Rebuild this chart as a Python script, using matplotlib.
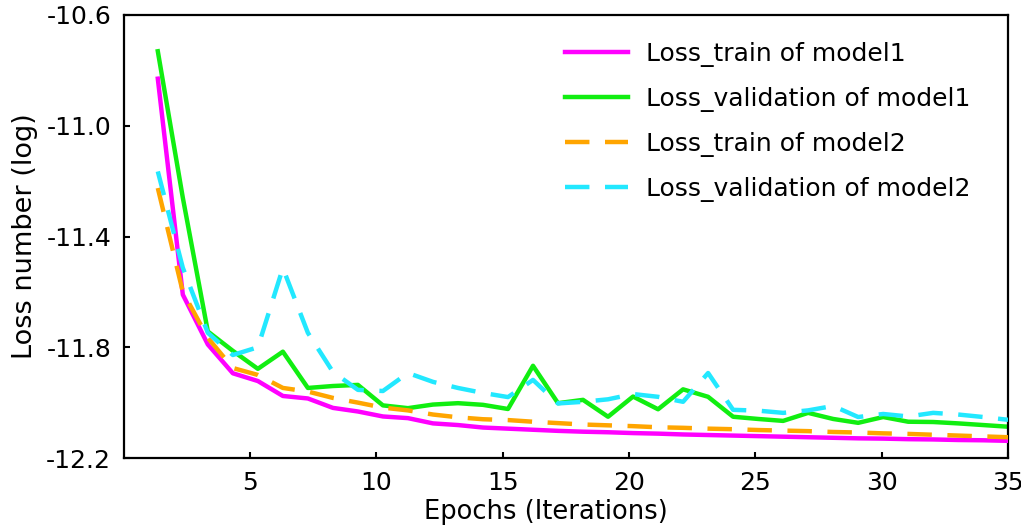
import numpy as np
import matplotlib
matplotlib.use("Agg")
import matplotlib.pyplot as plt

epochs = [1.35, 2.34, 3.33, 4.32, 5.31, 6.30, 7.29, 8.28, 9.27, 10.26,
          11.25, 12.24, 13.23, 14.22, 15.21, 16.20, 17.19, 18.18, 19.17, 20.16,
          21.15, 22.14, 23.13, 24.12, 25.11, 26.10, 27.09, 28.08, 29.07, 30.06,
          31.05, 32.04, 33.03, 34.02, 35.00]

train_m1 = [-10.830, -11.610, -11.790, -11.894, -11.922, -11.976, -11.985, -12.019, -12.032, -12.050,
            -12.056, -12.075, -12.081, -12.090, -12.094, -12.098, -12.102, -12.105, -12.107, -12.110,
            -12.112, -12.115, -12.117, -12.119, -12.121, -12.123, -12.125, -12.127, -12.129, -12.130,
            -12.132, -12.133, -12.135, -12.136, -12.138]

val_m1 = [-10.731, -11.260, -11.743, -11.813, -11.878, -11.816, -11.947, -11.940, -11.936, -12.010,
          -12.020, -12.007, -12.002, -12.008, -12.023, -11.867, -12.002, -11.990, -12.051, -11.978,
          -12.024, -11.952, -11.979, -12.051, -12.059, -12.066, -12.037, -12.059, -12.073, -12.052,
          -12.069, -12.070, -12.075, -12.081, -12.087]

train_m2 = [-11.225, -11.600, -11.766, -11.875, -11.900, -11.947, -11.960, -11.983, -12.000, -12.018,
            -12.028, -12.043, -12.053, -12.060, -12.063, -12.069, -12.074, -12.079, -12.082, -12.085,
            -12.089, -12.091, -12.094, -12.096, -12.099, -12.101, -12.103, -12.106, -12.108, -12.111,
            -12.113, -12.116, -12.119, -12.122, -12.125]

val_m2 = [-11.165, -11.513, -11.748, -11.828, -11.800, -11.514, -11.748, -11.889, -11.954, -11.958,
          -11.893, -11.925, -11.947, -11.965, -11.980, -11.918, -12.003, -11.997, -11.988, -11.969,
          -11.979, -11.997, -11.893, -12.026, -12.029, -12.037, -12.028, -12.012, -12.052, -12.041,
          -12.050, -12.037, -12.043, -12.052, -12.062]

labels = ['Loss_train of model1', 'Loss_validation of model1',
          'Loss_train of model2', 'Loss_validation of model2']

plt.rcParams['font.family'] = ['DejaVu Sans']

fig = plt.figure(figsize=(10.21, 5.29), dpi=100)
ax = fig.add_axes([123.7 / 1021, 1 - 458 / 529, 884.3 / 1021, 443 / 529])

dash = (5.5, 3.5)
ax.plot(epochs, train_m1, color='#ff00ff', lw=3.2, label=labels[0], zorder=3)
ax.plot(epochs, val_m1, color='#11ee11', lw=3.2, label=labels[1], zorder=2)
ax.plot(epochs, train_m2, color='#ffa500', lw=3.2, ls=(0, dash), label=labels[2], zorder=4)
ax.plot(epochs, val_m2, color='#22e8ff', lw=3.2, ls=(0, dash), label=labels[3], zorder=5)

ax.set_xlim(0, 35)
ax.set_ylim(-12.2, -10.6)
ax.set_xticks([5, 10, 15, 20, 25, 30, 35])
ax.set_yticks([-10.6, -11.0, -11.4, -11.8, -12.2])
ax.set_yticklabels(['%.1f' % v for v in [-10.6, -11.0, -11.4, -11.8, -12.2]])
ax.tick_params(direction='in', length=4.5, width=1.5, labelsize=18, pad=9)
for s in ax.spines.values():
    s.set_linewidth(1.6)

ax.set_xlabel('Epochs (Iterations)', fontsize=18.5)
ax.xaxis.set_label_coords(0.4776, -0.093)
ax.set_ylabel('Loss number (log)', fontsize=19.5, labelpad=6)

ax.legend(loc='upper left', bbox_to_anchor=(565 / 1021, 1 - 42 / 529),
          bbox_transform=fig.transFigure, frameon=False, fontsize=18,
          handlelength=2.5, handletextpad=0.75, labelspacing=0.8,
          borderpad=0, borderaxespad=0)

fig.savefig('out.png', dpi=100)
